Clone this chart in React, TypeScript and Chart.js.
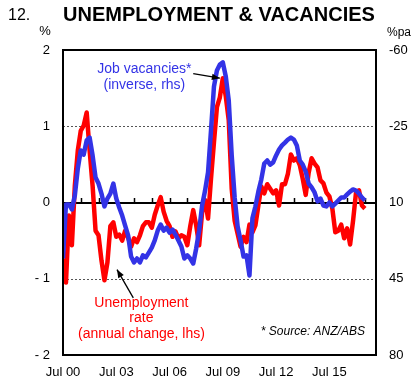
import React, { useEffect, useRef } from 'react';
import { Chart, registerables } from 'chart.js';

Chart.register(...registerables);

// Observations every 2 months starting Jul 2000
const STEP_MONTHS = 2;

// Unemployment rate, annual change (%, lhs)
const UNEMPLOYMENT = [
  -0.73, -1.05, -0.17, -0.56, 0.22, 0.68, 0.94, 1.01, 1.18, 0.68,
  0.22, -0.37, -0.43, -0.76, -1.02, -0.79, -0.31, -0.26, -0.45, -0.42,
  -0.5, -0.37, -0.46, -0.58, -0.47, -0.52, -0.43, -0.31, -0.26, -0.26,
  -0.33, -0.16, -0.04, 0.07, -0.12, -0.24, -0.31, -0.45, -0.38, -0.47,
  -0.43, -0.45, -0.56, -0.31, -0.1, -0.3, -0.56, -0.13, 0.03, -0.21,
  0.31, 0.79, 1.25, 1.38, 1.63, 1.39, 1.08, 0.18, -0.24, -0.41,
  -0.58, -0.45, -0.52, -0.29, -0.39, -0.3, -0.04, 0.21, 0.12, 0.24,
  0.18, 0.12, 0.16, -0.04, 0.24, 0.24, 0.38, 0.63, 0.55, 0.58,
  0.49, 0.31, 0.1, 0.39, 0.58, 0.51, 0.46, 0.29, 0.25, 0.13,
  0.08, -0.08, -0.39, -0.37, -0.29, -0.47, -0.34, -0.55, -0.24, 0.13,
  0.16, -0.04, -0.08,
];

// Job vacancies (%pa, inverted rhs)
const VACANCIES = [
  35.7, 10.9, 10.9, 13.2, 6.8, -5.6, -13.9, -12, -18.5, -19.8,
  -11.6, -1.5, 1.3, 5.9, 11.8, 8.2, 5.9, 1.3, 8.2, 12.3,
  16, 20.6, 25.1, 34.8, 37.5, 35.7, 37.5, 34.3, 35.2, 33,
  30.7, 27.4, 22.9, 20.1, 22.9, 21.5, 23.8, 22.4, 24.7, 27.4,
  30.2, 35.7, 34.3, 35.7, 38, 31.1, 22.9, 11.4, 4.5, -3.8,
  -23, -43.2, -50.6, -53.3, -54.3, -47.8, -36.8, -11.6, 7.7, 21,
  27.4, 34.8, 34.3, 43.5, 17.3, 11.8, 5, -0.6, -7.9, -9.3,
  -7.4, -8.4, -11.6, -14.3, -16.2, -17.5, -18.9, -19.8, -18.9, -16.2,
  -9.3, -7.4, -4.2, 1.3, 3.1, 5.4, 9.5, 8.2, 11.4, 11.8,
  10, 11.8, 10.5, 9.1, 7.7, 7.7, 6.3, 5, 4, 4.5,
  5.9, 7.7, 9.1,
];

const X_TICK_MONTHS = [0, 36, 72, 108, 144, 180];
const X_TICK_LABELS = ['Jul 00', 'Jul 03', 'Jul 06', 'Jul 09', 'Jul 12', 'Jul 15'];
const X_MAX_MONTHS = 211.5;
const LHS_TICKS = [2, 1, 0, -1, -2];
const RHS_TICKS = [-60, -25, 10, 45, 80];

const FONT = '"Liberation Sans", Arial, Helvetica, sans-serif';
const RED = '#ff0000';
const BLUE = '#3333e6';

function arrow(ctx: CanvasRenderingContext2D, x1: number, y1: number, x2: number, y2: number) {
  ctx.beginPath();
  ctx.moveTo(x1, y1);
  ctx.lineTo(x2, y2);
  ctx.stroke();
  const ang = Math.atan2(y2 - y1, x2 - x1);
  const len = 8, w = 3.2;
  ctx.beginPath();
  ctx.moveTo(x2, y2);
  ctx.lineTo(x2 - len * Math.cos(ang) + w * Math.sin(ang), y2 - len * Math.sin(ang) - w * Math.cos(ang));
  ctx.lineTo(x2 - len * Math.cos(ang) - w * Math.sin(ang), y2 - len * Math.sin(ang) + w * Math.cos(ang));
  ctx.closePath();
  ctx.fill();
}

const decor = {
  id: 'decor',
  beforeDatasetsDraw(chart: any) {
    const { ctx, chartArea: a, scales } = chart;
    const y = scales.y;
    const x = scales.x;
    ctx.save();
    ctx.strokeStyle = '#555';
    ctx.lineWidth = 1;
    ctx.setLineDash([2, 2]);
    [1, -1].forEach((v) => {
      const py = Math.round(y.getPixelForValue(v)) + 0.5;
      ctx.beginPath();
      ctx.moveTo(a.left, py);
      ctx.lineTo(a.right, py);
      ctx.stroke();
    });
    ctx.setLineDash([]);
    ctx.strokeStyle = '#000';
    ctx.lineWidth = 2;
    const z = Math.round(y.getPixelForValue(0));
    ctx.beginPath();
    ctx.moveTo(a.left, z);
    ctx.lineTo(a.right, z);
    ctx.stroke();
    ctx.lineWidth = 1.5;
    for (let m = 12; m < X_MAX_MONTHS; m += 12) {
      const px = Math.round(x.getPixelForValue(m)) + 0.5;
      ctx.beginPath();
      ctx.moveTo(px, z);
      ctx.lineTo(px, z - 5);
      ctx.stroke();
    }
    ctx.restore();
  },
  afterDraw(chart: any) {
    const { ctx, chartArea: a, scales } = chart;
    const x = scales.x;
    const y = scales.y;
    const X = (m: number) => x.getPixelForValue(m);
    const Y = (v: number) => y.getPixelForValue(v);
    ctx.save();
    // frame
    ctx.strokeStyle = '#000';
    ctx.lineWidth = 2;
    ctx.strokeRect(a.left, a.top, a.right - a.left, a.bottom - a.top);

    // titles
    ctx.fillStyle = '#000';
    ctx.textBaseline = 'alphabetic';
    ctx.textAlign = 'left';
    ctx.font = `16px ${FONT}`;
    ctx.fillText('12.', 8, 20);
    ctx.font = `bold 20px ${FONT}`;
    ctx.fillText('UNEMPLOYMENT & VACANCIES', a.left, 21, a.right - a.left);
    ctx.font = `13px ${FONT}`;
    ctx.textBaseline = 'middle';
    ctx.textAlign = 'center';
    ctx.fillText('%', 45, 31);
    ctx.textAlign = 'left';
    ctx.font = `12px ${FONT}`;
    ctx.fillText('%pa', 387, 33);

    // annotations
    ctx.font = `14px ${FONT}`;
    ctx.textAlign = 'center';
    ctx.fillStyle = BLUE;
    ctx.fillText('Job vacancies*', X(55), Y(1.75));
    ctx.fillText('(inverse, rhs)', X(55), Y(1.54));
    ctx.fillStyle = RED;
    ctx.fillText('Unemployment', X(53), Y(-1.32));
    ctx.fillText('rate', X(53), Y(-1.52));
    ctx.fillText('(annual change, lhs)', X(53), Y(-1.73));
    ctx.fillStyle = '#000';
    ctx.font = `italic 12px ${FONT}`;
    ctx.textAlign = 'right';
    ctx.fillText('* Source: ANZ/ABS', X(204), Y(-1.70));

    ctx.strokeStyle = '#000';
    ctx.fillStyle = '#000';
    ctx.lineWidth = 1.3;
    arrow(ctx, X(88), Y(1.69), X(106), Y(1.63));
    arrow(ctx, X(47.5), Y(-1.25), X(36.5), Y(-0.88));
    ctx.restore();
  },
};

export default function App() {
  const ref = useRef<HTMLCanvasElement | null>(null);
  useEffect(() => {
    document.body.style.margin = '0';
    const months = UNEMPLOYMENT.map((_, i) => i * STEP_MONTHS);
    const chart = new Chart(ref.current as HTMLCanvasElement, {
      type: 'line',
      data: {
        datasets: [
          {
            label: 'Job vacancies (inverse, rhs)',
            data: VACANCIES.map((v, i) => ({ x: months[i], y: v })),
            yAxisID: 'y2',
            borderColor: BLUE,
            borderWidth: 4.5,
            pointRadius: 0,
            tension: 0,
            order: 0,
            borderJoinStyle: 'round',
          },
          {
            label: 'Unemployment rate (annual change, lhs)',
            data: UNEMPLOYMENT.map((v, i) => ({ x: months[i], y: v })),
            yAxisID: 'y',
            borderColor: RED,
            borderWidth: 4.5,
            pointRadius: 0,
            tension: 0,
            order: 1,
            borderJoinStyle: 'round',
          },
        ],
      },
      options: {
        responsive: false,
        animation: false,
        layout: { padding: { top: 50, left: 0, right: 0, bottom: 0 } },
        plugins: { legend: { display: false }, tooltip: { enabled: false }, title: { display: false } },
        scales: {
          x: {
            type: 'linear',
            min: 0,
            max: X_MAX_MONTHS,
            grid: { display: false, drawTicks: false },
            border: { display: false },
            afterBuildTicks: (s: any) => {
              s.ticks = X_TICK_MONTHS.map((v) => ({ value: v }));
            },
            afterFit: (s: any) => {
              s.height = 25;
            },
            ticks: {
              padding: 10,
              maxRotation: 0,
              autoSkip: false,
              color: '#000',
              font: { family: FONT, size: 13 },
              callback: (v: any) => {
                const i = X_TICK_MONTHS.indexOf(Number(v));
                return i >= 0 ? X_TICK_LABELS[i] : '';
              },
            },
          },
          y: {
            position: 'left',
            min: -2,
            max: 2,
            grid: { display: false, drawTicks: false },
            border: { display: false },
            afterBuildTicks: (s: any) => {
              s.ticks = LHS_TICKS.map((v) => ({ value: v }));
            },
            afterFit: (s: any) => {
              s.width = 63;
            },
            ticks: {
              padding: 13,
              color: '#000',
              font: { family: FONT, size: 13 },
              callback: (v: any) => (Number(v) < 0 ? '- ' + Math.abs(Number(v)) : String(v)),
            },
          },
          y2: {
            position: 'right',
            min: -60,
            max: 80,
            reverse: true,
            grid: { display: false, drawTicks: false },
            border: { display: false },
            afterBuildTicks: (s: any) => {
              s.ticks = RHS_TICKS.map((v) => ({ value: v }));
            },
            afterFit: (s: any) => {
              s.width = 37;
            },
            ticks: {
              padding: 13,
              color: '#000',
              font: { family: FONT, size: 13 },
            },
          },
        },
      },
      plugins: [decor],
    } as any);
    return () => chart.destroy();
  }, []);
  return (
    <div style={{ width: 413, height: 380, background: '#fff' }}>
      <canvas ref={ref} width={413} height={380} />
    </div>
  );
}
